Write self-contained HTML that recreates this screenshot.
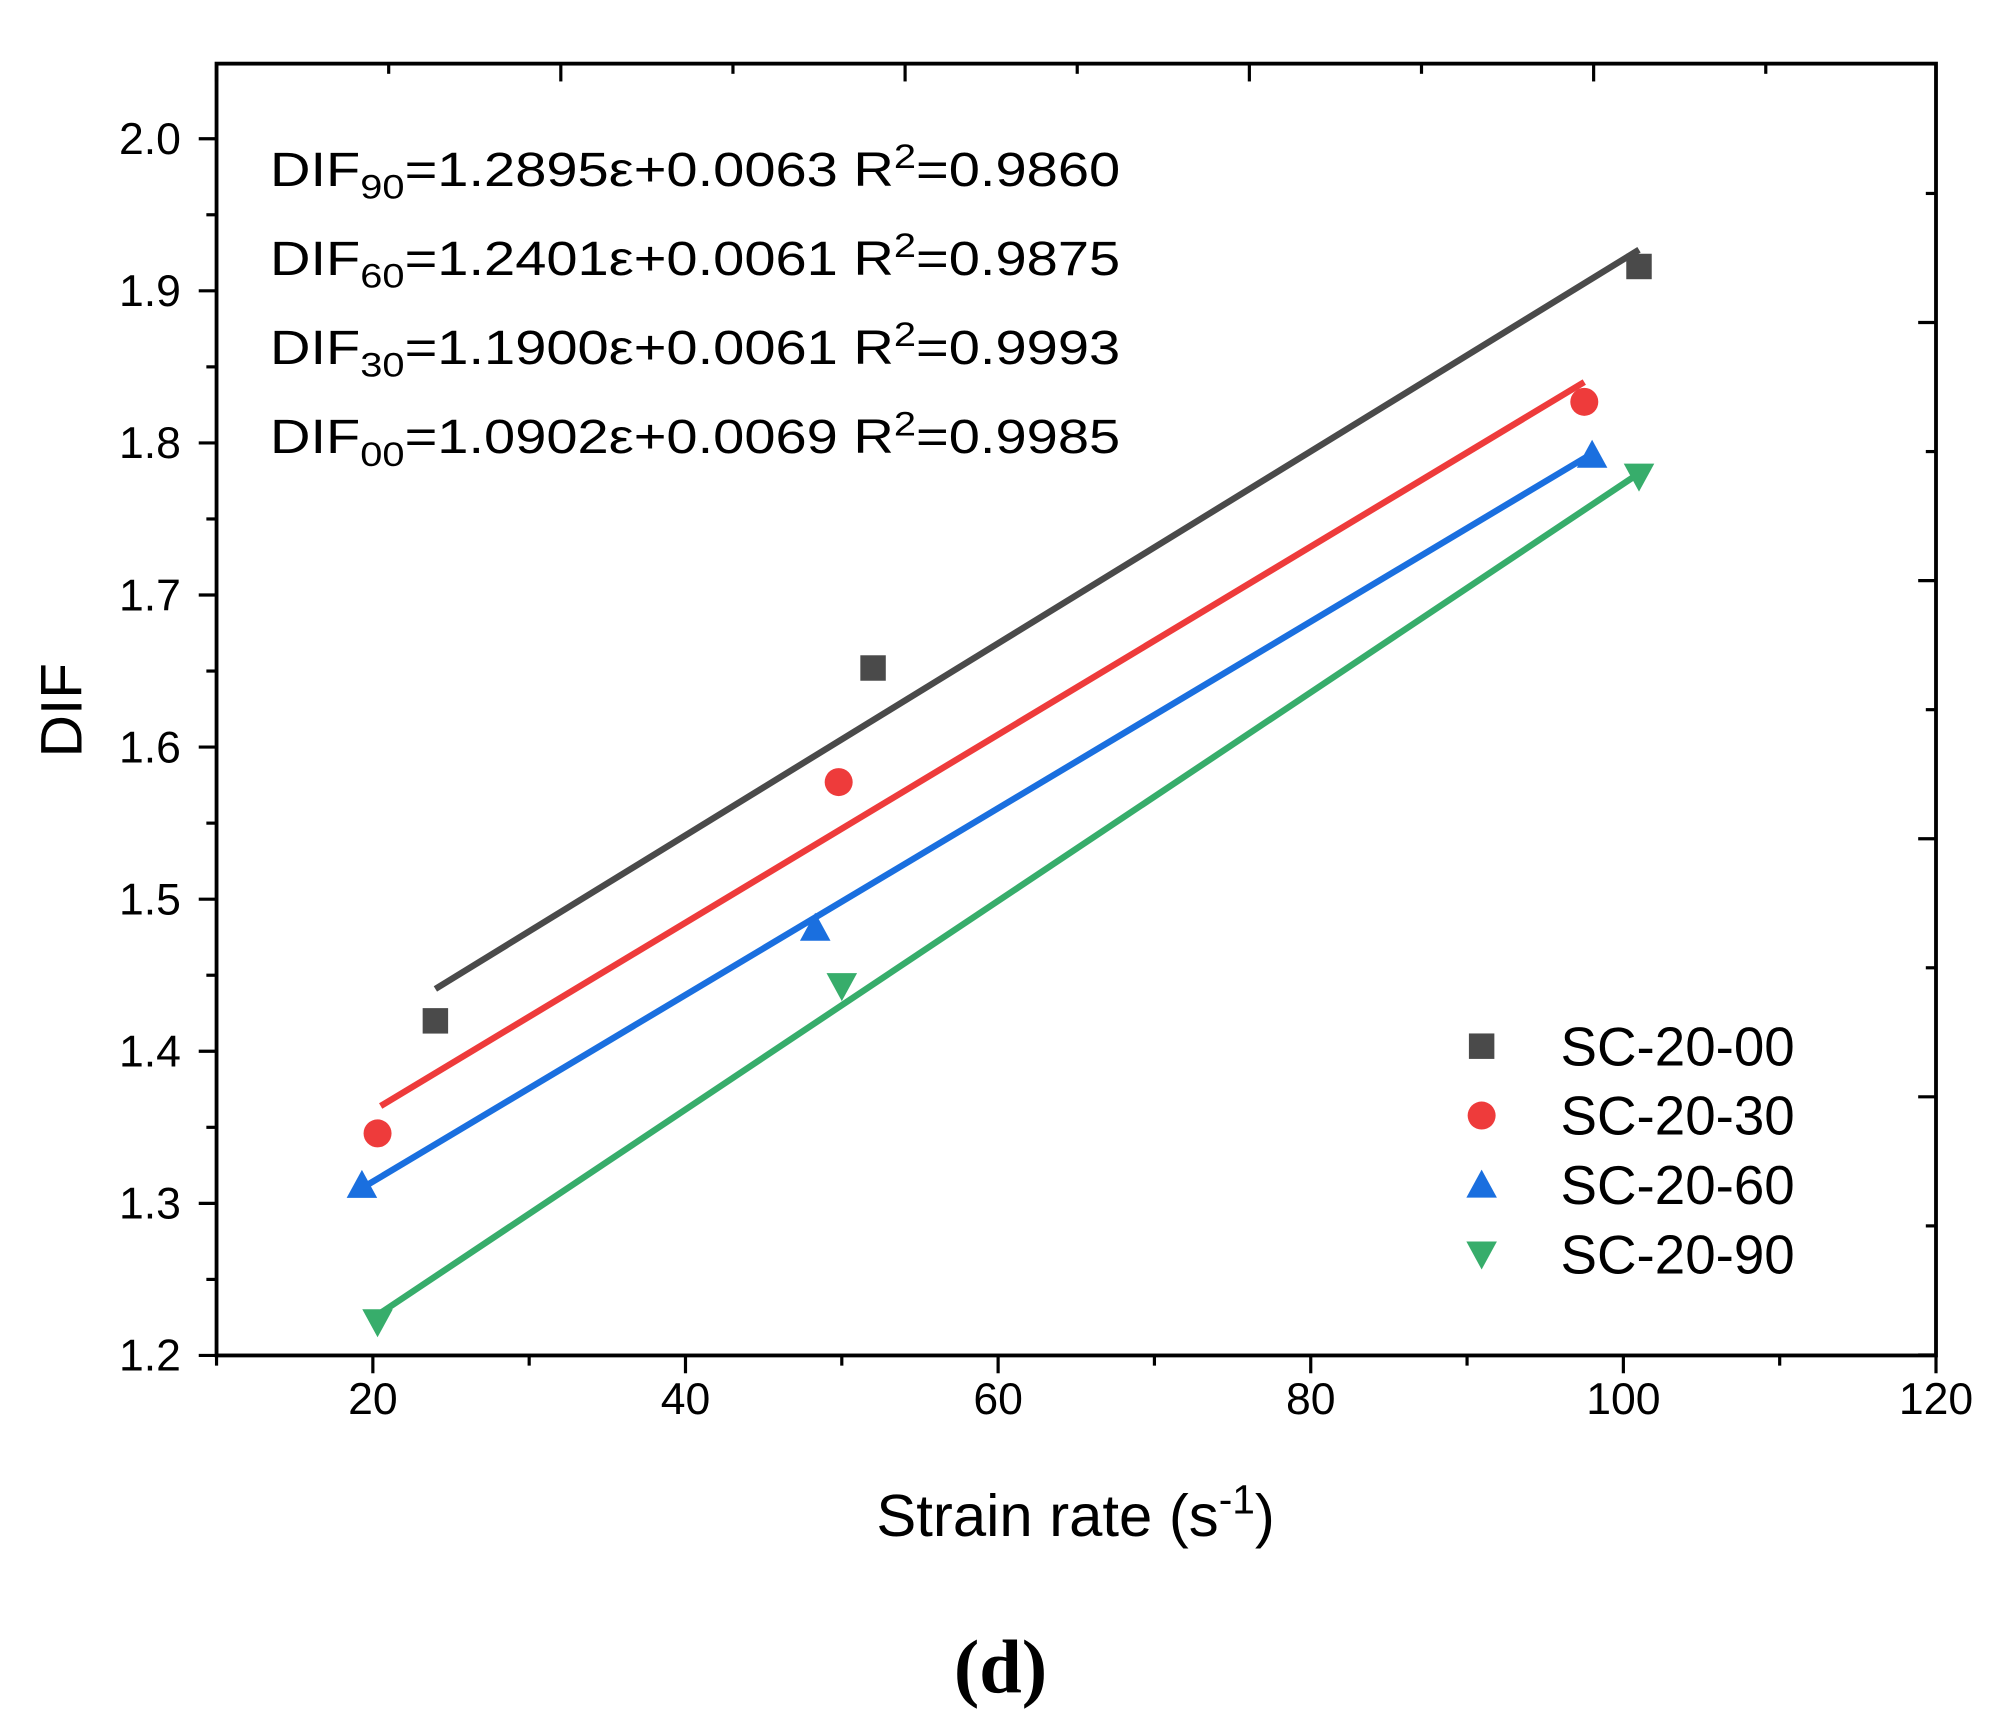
<!DOCTYPE html>
<html><head><meta charset="utf-8"><style>
html,body{margin:0;padding:0;background:#fff;}
svg{display:block;font-family:"Liberation Sans",sans-serif;}
</style></head><body>
<svg id="chart" width="1996" height="1736" viewBox="0 0 1568 1364" xmlns="http://www.w3.org/2000/svg">
<g id="axes"></g>
<g id="marks"></g>
<g font-size="38" fill="#000">
<text x="212" y="146" textLength="668" lengthAdjust="spacingAndGlyphs">DIF<tspan font-size="27" dy="10">90</tspan><tspan dy="-10">=1.2895ε+0.0063 R</tspan><tspan font-size="27" dy="-14">2</tspan><tspan dy="14">=0.9860</tspan></text>
<text x="212" y="216" textLength="668" lengthAdjust="spacingAndGlyphs">DIF<tspan font-size="27" dy="10">60</tspan><tspan dy="-10">=1.2401ε+0.0061 R</tspan><tspan font-size="27" dy="-14">2</tspan><tspan dy="14">=0.9875</tspan></text>
<text x="212" y="286" textLength="668" lengthAdjust="spacingAndGlyphs">DIF<tspan font-size="27" dy="10">30</tspan><tspan dy="-10">=1.1900ε+0.0061 R</tspan><tspan font-size="27" dy="-14">2</tspan><tspan dy="14">=0.9993</tspan></text>
<text x="212" y="356" textLength="668" lengthAdjust="spacingAndGlyphs">DIF<tspan font-size="27" dy="10">00</tspan><tspan dy="-10">=1.0902ε+0.0069 R</tspan><tspan font-size="27" dy="-14">2</tspan><tspan dy="14">=0.9985</tspan></text>
</g>
<text x="845" y="1207" font-size="47" text-anchor="middle">Strain rate (s<tspan font-size="32" dy="-18">-1</tspan><tspan dy="18">)</tspan></text>
<text transform="translate(64,558) rotate(-90)" font-size="46" text-anchor="middle">DIF</text>
<text x="786" y="1330" font-size="60" font-weight="bold" text-anchor="middle" font-family="Liberation Serif,serif">(d)</text>
<g id="legend"></g>
</svg>
<script>
const xTicks=[20,40,60,80,100,120];
const yTicks=[1.2,1.3,1.4,1.5,1.6,1.7,1.8,1.9,2.0];
const seriesNames=["SC-20-00","SC-20-30","SC-20-60","SC-20-90"];
const seriesColors=["#4a4a4a","#ee3b3b","#1a6fdf","#37ad6b"];
const seriesShapes=["square","circle","up","down"];
const x00=[24,52,101], y00=[1.42,1.652,1.916];
const x30=[20.3,49.8,97.5], y30=[1.346,1.577,1.827];
const x60=[19.3,48.3,98], y60=[1.312,1.481,1.792];
const x90=[20.3,50,101], y90=[1.222,1.443,1.778];
const fitX00=[24,101], fitY00=[1.441,1.927];
const fitX30=[20.5,97.5], fitY30=[1.364,1.840];
const fitX60=[19.3,98], fitY60=[1.31,1.793];
const fitX90=[20.5,101], fitY90=[1.228,1.780];

const L=170,R=1521,T=50,B=1065;
const X=v=>L+(v-10)*(R-L)/110;
const Y=v=>1065-(v-1.2)*1195;
const NS="http://www.w3.org/2000/svg";
function mk(tag,attrs,parent){const e=document.createElementNS(NS,tag);for(const k in attrs)e.setAttribute(k,attrs[k]);parent.appendChild(e);return e;}
const ax=document.getElementById('axes');
let f=mk('rect',{x:L,y:T,width:R-L,height:B-T,fill:'none',stroke:'#000','stroke-width':3},ax);


for(let v=10;v<=120;v+=10){const maj=v%20===0;
 mk('line',{x1:X(v),x2:X(v),y1:B,y2:B+(maj?14:8),stroke:'#000','stroke-width':2.5},ax);}
xTicks.forEach(v=>{const t=mk('text',{x:X(v),y:B+46,'font-size':35,'text-anchor':'middle'},ax);t.textContent=v;
 
 });
for(let i=0;i<=16;i++){const v=1.2+i*0.05;const maj=i%2===0;
 mk('line',{x1:L,x2:L-(maj?14:8),y1:Y(v),y2:Y(v),stroke:'#000','stroke-width':2.5},ax);}
yTicks.forEach(v=>{const t=mk('text',{x:L-28,y:Y(v)+12,'font-size':35,'text-anchor':'end'},ax);t.textContent=v.toFixed(1);
 
 });
for(let i=0;i<=10;i++){const x=170+i*135.25;if(x>R)break;const maj=i%2===0;
 mk('line',{x1:x,x2:x,y1:T,y2:T+(maj?14:8),stroke:'#000','stroke-width':2.5},ax);}
for(let i=0;i<10;i++){const y=152+i*101.4;if(y>B)break;const maj=i%2===1;
 mk('line',{x1:R,x2:R-(maj?14:8),y1:y,y2:y,stroke:'#000','stroke-width':2.5},ax);}

const mg=document.getElementById('marks');
function marker(shape,cx,cy,color,parent){
 if(shape==='square')return mk('rect',{x:cx-10,y:cy-10,width:20,height:20,fill:color},parent);
 if(shape==='circle')return mk('circle',{cx:cx,cy:cy,r:11,fill:color},parent);
 if(shape==='up')return mk('polygon',{points:`${cx},${cy-12} ${cx-12},${cy+10} ${cx+12},${cy+10}`,fill:color},parent);
 return mk('polygon',{points:`${cx},${cy+12} ${cx-12},${cy-10} ${cx+12},${cy-10}`,fill:color},parent);
}
const data=[[x00,y00,fitX00,fitY00],[x30,y30,fitX30,fitY30],[x60,y60,fitX60,fitY60],[x90,y90,fitX90,fitY90]];
data.forEach((d,s)=>{
 const ln=mk('line',{x1:X(d[2][0]),y1:Y(d[3][0]),x2:X(d[2][1]),y2:Y(d[3][1]),stroke:seriesColors[s],'stroke-width':5},mg);
 
 
 d[0].forEach((xv,i)=>{const m=marker(seriesShapes[s],X(xv),Y(d[1][i]),seriesColors[s],mg);
  
  });
});
const lg=document.getElementById('legend');
seriesNames.forEach((n,i)=>{const y=822+i*54.5;
 const m=marker(seriesShapes[i],1164,y,seriesColors[i],lg);
 
 
 const t=mk('text',{x:1226,y:y+15,'font-size':43},lg);t.textContent=n;
 
 });
</script>
</body></html>
